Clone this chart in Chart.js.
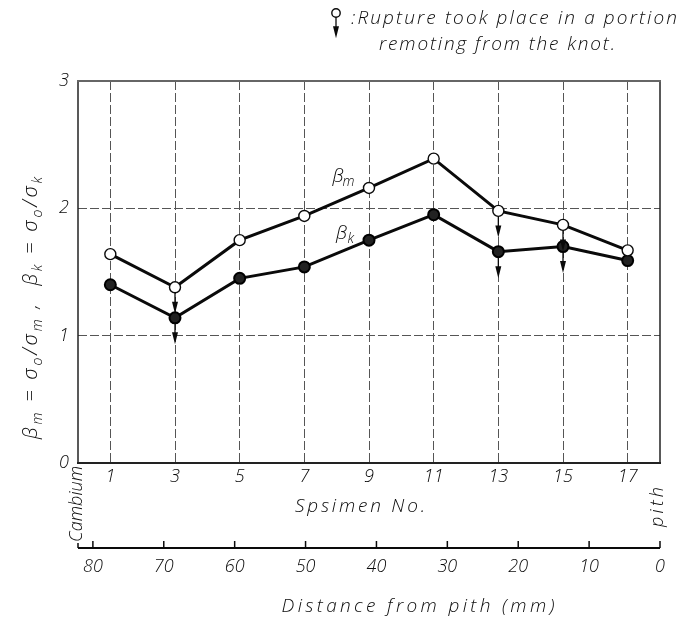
<!DOCTYPE html>
<html>
<head>
<meta charset="utf-8">
<script src="https://cdn.jsdelivr.net/npm/chart.js@4.4.1/dist/chart.umd.min.js"></script>
<style>
  html, body { margin: 0; padding: 0; background: #fff; }
  #c { display: block; }
</style>
</head>
<body>
<canvas id="c" width="683" height="621"></canvas>
<script>
// ---- data ----
const specimens = [1, 3, 5, 7, 9, 11, 13, 15, 17];
const betaM = [1.64, 1.38, 1.75, 1.94, 2.16, 2.39, 1.98, 1.87, 1.67];
const betaK = [1.40, 1.14, 1.45, 1.54, 1.75, 1.95, 1.66, 1.70, 1.59];
const ruptureM = [3, 13, 15];   // specimens with arrow (βm)
const ruptureK = [3, 13, 15];   // specimens with arrow (βk)
const yTicks = [0, 1, 2, 3];
const distTicks = [0, 10, 20, 30, 40, 50, 60, 70, 80];

const FAMILY = '"Open Sans", "DejaVu Sans", sans-serif';
const INK = '#0a0a0a';

// segments: [text, isSub]
function richText(ctx, segs, cx, cy, width, size, rot) {
  ctx.save();
  ctx.fillStyle = INK;
  ctx.textAlign = 'left';
  ctx.textBaseline = 'alphabetic';
  const subSize = Math.round(size * 0.72);
  const fontFor = s => 'italic 300 ' + (s ? subSize : size) + 'px ' + FAMILY;
  ctx.letterSpacing = '0px';
  let w0 = 0, nChars = 0;
  segs.forEach(([t, s]) => { ctx.font = fontFor(s); w0 += ctx.measureText(t).width; nChars += [...t].length; });
  const n = Math.max(1, nChars - 1);
  const sp = Math.max(-1, (width - w0) / n);
  ctx.translate(cx, cy);
  if (rot) ctx.rotate(rot);
  let x = -width / 2;
  const base = size * 0.36;
  ctx.letterSpacing = sp.toFixed(2) + 'px';
  segs.forEach(([t, s]) => {
    ctx.font = fontFor(s);
    ctx.fillText(t, x, base + (s ? size * 0.22 : 0));
    x += ctx.measureText(t).width;
  });
  ctx.restore();
}
function fitText(ctx, text, cx, cy, width, size, rot) {
  richText(ctx, [[text, false]], cx, cy, width, size, rot);
}

function arrow(ctx, x, y, r) {
  ctx.save();
  ctx.strokeStyle = INK;
  ctx.fillStyle = INK;
  ctx.lineWidth = 1.3;
  ctx.beginPath();
  ctx.moveTo(x, y + r);
  ctx.lineTo(x, y + r + 11);
  ctx.stroke();
  ctx.beginPath();
  ctx.moveTo(x - 3, y + r + 9);
  ctx.lineTo(x + 3, y + r + 9);
  ctx.lineTo(x, y + r + 21);
  ctx.closePath();
  ctx.fill();
  ctx.restore();
}

const decor = {
  id: 'decor',
  beforeDatasetsDraw(chart) {
    const {ctx, chartArea: a} = chart;
    ctx.save();
    ctx.strokeStyle = '#222';
    ctx.lineWidth = 1.5;
    ctx.beginPath(); ctx.moveTo(a.left, a.top); ctx.lineTo(a.left, a.bottom); ctx.stroke();
    ctx.beginPath(); ctx.moveTo(a.right, a.top); ctx.lineTo(a.right, a.bottom); ctx.stroke();
    ctx.lineWidth = 2.2;
    ctx.beginPath(); ctx.moveTo(a.left - 1, a.bottom); ctx.lineTo(a.right + 1, a.bottom); ctx.stroke();
    ctx.strokeStyle = '#666';
    ctx.lineWidth = 2;
    ctx.beginPath(); ctx.moveTo(a.left - 1, a.top); ctx.lineTo(a.right + 1, a.top); ctx.stroke();
    ctx.restore();
  },
  afterDraw(chart) {
    const {ctx} = chart;
    const x2 = chart.scales.x2;
    // distance axis line and ticks
    ctx.save();
    ctx.strokeStyle = INK;
    ctx.lineWidth = 2;
    const yL = x2.top;
    ctx.beginPath(); ctx.moveTo(x2.left, yL); ctx.lineTo(x2.right, yL); ctx.stroke();
    ctx.lineWidth = 1.5;
    distTicks.forEach(v => {
      const px = x2.getPixelForValue(v);
      ctx.beginPath(); ctx.moveTo(px, yL); ctx.lineTo(px, yL - 7); ctx.stroke();
    });
    ctx.beginPath(); ctx.moveTo(x2.left, yL); ctx.lineTo(x2.left, yL - 5); ctx.stroke();
    ctx.restore();

    // arrows
    const mM = chart.getDatasetMeta(0), mK = chart.getDatasetMeta(1);
    specimens.forEach((s, i) => {
      if (ruptureM.includes(s)) arrow(ctx, mM.data[i].x, mM.data[i].y, 5.5);
      if (ruptureK.includes(s)) arrow(ctx, mK.data[i].x, mK.data[i].y, 5.5);
    });

    // legend symbol
    ctx.save();
    ctx.strokeStyle = INK; ctx.lineWidth = 1.4; ctx.fillStyle = '#fff';
    ctx.beginPath(); ctx.arc(336, 13, 4.2, 0, Math.PI * 2); ctx.fill(); ctx.stroke();
    ctx.restore();
    arrow(ctx, 336, 13, 4.2);

    fitText(ctx, ':Rupture took place in a portion', 514, 17, 326, 19);
    fitText(ctx, 'remoting from the knot.', 497, 43, 236, 19);

    richText(ctx, [['β', false], ['m', true]], 343, 175, 21, 19);
    richText(ctx, [['β', false], ['k', true]], 345, 232, 18, 19);

    richText(ctx, [
      ['β', false], ['m', true], [' = σ', false], ['o', true], ['/σ', false], ['m', true],
      [' ,  β', false], ['k', true], [' = σ', false], ['o', true], ['/σ', false], ['k', true]
    ], 30, 308, 262, 20, -Math.PI / 2);

    fitText(ctx, 'Spsimen No.', 360, 505, 130, 19);
    fitText(ctx, 'Cambium', 76, 504, 76, 18, -Math.PI / 2);
    fitText(ctx, 'pith', 657, 507, 40, 18, -Math.PI / 2);
    fitText(ctx, 'Distance from pith (mm)', 418, 605, 273, 19);
  }
};

const tickFont = {family: FAMILY, size: 18, style: 'italic', weight: '300'};

new Chart(document.getElementById('c'), {
  type: 'line',
  data: {
    datasets: [
      {
        label: 'βm',
        data: specimens.map((s, i) => ({x: s, y: betaM[i]})),
        borderColor: INK,
        borderWidth: 3,
        pointRadius: 5.5,
        pointBackgroundColor: '#fff',
        pointBorderColor: INK,
        pointBorderWidth: 1.4,
        tension: 0
      },
      {
        label: 'βk',
        data: specimens.map((s, i) => ({x: s, y: betaK[i]})),
        borderColor: INK,
        borderWidth: 3,
        pointRadius: 5.5,
        pointBackgroundColor: '#222',
        pointBorderColor: '#000',
        pointBorderWidth: 2,
        tension: 0
      }
    ]
  },
  options: {
    responsive: false,
    animation: false,
    events: [],
    layout: {padding: {top: 81, right: 23, left: 0, bottom: 0}},
    plugins: {legend: {display: false}, tooltip: {enabled: false}},
    scales: {
      x: {
        type: 'linear', position: 'bottom', min: 0, max: 18,
        afterBuildTicks(s) { s.ticks = specimens.map(v => ({value: v})); },
        afterFit(s) { s.height = 85; },
        grid: {color: '#555', lineWidth: 1, drawTicks: false},
        border: {display: false, dash: [9, 3]},
        ticks: {padding: 3, font: tickFont, color: INK, maxRotation: 0, autoSkip: false}
      },
      x2: {
        type: 'linear', position: 'bottom', reverse: true, min: 0, max: 82.1,
        afterBuildTicks(s) { s.ticks = distTicks.map(v => ({value: v})); },
        afterFit(s) { s.height = 73; },
        grid: {display: false, drawTicks: false},
        border: {display: false},
        ticks: {padding: 8, font: tickFont, color: INK, maxRotation: 0, autoSkip: false}
      },
      y: {
        min: 0, max: 3,
        afterBuildTicks(s) { s.ticks = yTicks.map(v => ({value: v})); },
        afterFit(s) { s.width = 78; },
        grid: {color: '#555', lineWidth: 1, drawTicks: false},
        border: {display: false, dash: [9, 3]},
        ticks: {padding: 9, font: tickFont, color: INK}
      }
    }
  },
  plugins: [decor]
});
</script>
</body>
</html>
